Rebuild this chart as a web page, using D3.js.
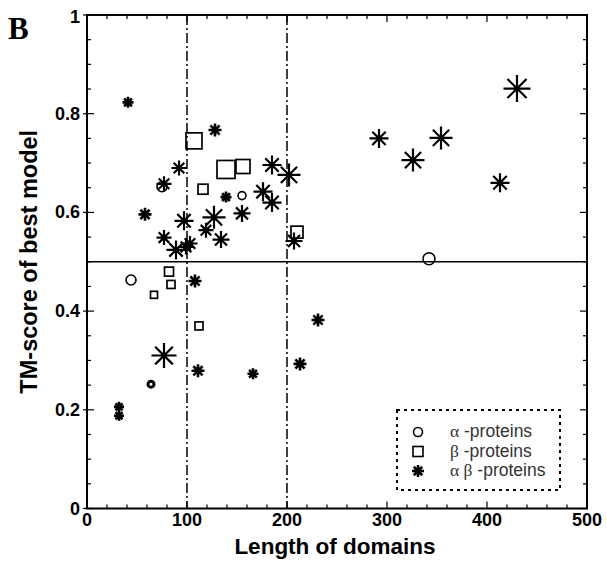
<!DOCTYPE html>
<html>
<head>
<meta charset="utf-8">
<script src="https://cdn.jsdelivr.net/npm/d3@7"></script>
<style>
  body { margin: 0; background: #fff; }
  svg text { font-family: Arial, "Liberation Sans", sans-serif; }
</style>
</head>
<body>
<div id="chart"></div>
<script>
// data: [length, TM-score, marker size (px span)]
const alphaProteins = [
  [75, 0.652, 10], [155, 0.634, 8], [44, 0.463, 10], [342, 0.506, 12], [64, 0.252, 6]
];
const betaProteins = [
  [107, 0.745, 16], [139, 0.687, 18], [156, 0.693, 14], [116, 0.647, 10],
  [210, 0.56, 12], [82, 0.48, 9], [84, 0.454, 8], [67, 0.433, 7], [112, 0.37, 8]
];
const alphaBetaProteins = [
  [41, 0.823, 10], [128, 0.767, 12], [92, 0.69, 14], [77, 0.658, 14], [139, 0.631, 10],
  [176, 0.642, 18], [185, 0.62, 18], [185, 0.696, 18], [202, 0.676, 22], [58, 0.596, 12],
  [97, 0.583, 18], [127, 0.59, 22], [155, 0.598, 16], [119, 0.564, 14], [134, 0.545, 16],
  [77, 0.549, 14], [89, 0.524, 18], [103, 0.537, 14], [99, 0.53, 14], [207, 0.542, 16],
  [108, 0.461, 12], [231, 0.382, 12], [77, 0.31, 24], [111, 0.279, 12], [166, 0.273, 10],
  [213, 0.293, 12], [32, 0.206, 9], [32, 0.188, 9], [292, 0.75, 18], [326, 0.706, 22],
  [354, 0.751, 22], [430, 0.851, 26], [413, 0.66, 18]
];
const xTicks = [0, 100, 200, 300, 400, 500];
const yTicks = [0, 0.2, 0.4, 0.6, 0.8, 1];
const cutLengths = [100, 200];
const cutScore = 0.5;
const legendItems = [
  {greek: 'α', label: ' -proteins', type: 'circle'},
  {greek: 'β', label: ' -proteins', type: 'square'},
  {greek: 'α β', label: ' -proteins', type: 'star'}
];

const width = 607, height = 562;
const margin = {t: 15, r: 20, b: 53.5, l: 87};
const w = width - margin.l - margin.r;
const h = height - margin.t - margin.b;

const svg = d3.select('#chart').append('svg')
  .attr('width', width)
  .attr('height', height);

const plot = svg.append('g')
  .attr('transform', `translate(${margin.l},${margin.t})`);

// scales
const scaleX = d3.scaleLinear().domain([0, 500]).range([0, w]);
const scaleY = d3.scaleLinear().domain([0, 1]).range([h, 0]);

// asterisk with 8 rays
function star(r) {
  const d = r * Math.SQRT1_2;
  return `M${-r},0L${r},0M0,${-r}L0,${r}M${-d},${-d}L${d},${d}M${-d},${d}L${d},${-d}`;
}

// ticks: minor every 20 / 0.05, inward on all sides
const xMinor = d3.range(0, 501, 20);
const yMinor = d3.range(0, 1.0001, 0.05);
const tickG = plot.append('g').attr('stroke', '#000').attr('stroke-width', 1.2);
xMinor.forEach(v => {
  const len = xTicks.includes(v) ? 7 : 4;
  tickG.append('line').attr('x1', scaleX(v)).attr('x2', scaleX(v)).attr('y1', h).attr('y2', h - len);
  tickG.append('line').attr('x1', scaleX(v)).attr('x2', scaleX(v)).attr('y1', 0).attr('y2', len);
});
yMinor.forEach(v => {
  const major = yTicks.some(t => Math.abs(t - v) < 1e-6);
  const len = major ? 7 : 4;
  tickG.append('line').attr('y1', scaleY(v)).attr('y2', scaleY(v)).attr('x1', major ? -4 : 0).attr('x2', len);
  tickG.append('line').attr('y1', scaleY(v)).attr('y2', scaleY(v)).attr('x1', w).attr('x2', w - len);
});

// frame
plot.append('rect')
  .attr('width', w).attr('height', h)
  .attr('fill', 'none').attr('stroke', '#000').attr('stroke-width', 2);

// reference lines
plot.selectAll('.cut-x')
  .data(cutLengths)
  .enter().append('line')
  .attr('x1', d => scaleX(d)).attr('x2', d => scaleX(d))
  .attr('y1', 0).attr('y2', h)
  .attr('stroke', '#000').attr('stroke-width', 1.5)
  .attr('stroke-dasharray', '10,3,2,3');
plot.append('line')
  .attr('x1', 0).attr('x2', w)
  .attr('y1', scaleY(cutScore)).attr('y2', scaleY(cutScore))
  .attr('stroke', '#000').attr('stroke-width', 1.6);

// tick labels
svg.append('g').selectAll('text')
  .data(xTicks)
  .enter().append('text')
  .attr('x', d => margin.l + scaleX(d))
  .attr('y', 526)
  .attr('text-anchor', 'middle')
  .attr('font-size', 18).attr('font-weight', 'bold')
  .text(d => d);
svg.append('g').selectAll('text')
  .data(yTicks)
  .enter().append('text')
  .attr('x', margin.l - 7)
  .attr('y', d => margin.t + scaleY(d) + (d === 1 ? 8 : 6))
  .attr('text-anchor', 'end')
  .attr('font-size', 18).attr('font-weight', 'bold')
  .text(d => d);

// axis titles
svg.append('text')
  .attr('x', margin.l + w / 2 - 2).attr('y', 554)
  .attr('text-anchor', 'middle')
  .attr('font-size', 22.5).attr('font-weight', 'bold')
  .text('Length of domains');
svg.append('text')
  .attr('transform', `translate(37,${margin.t + h / 2}) rotate(-90)`)
  .attr('text-anchor', 'middle')
  .attr('font-size', 23.5).attr('font-weight', 'bold')
  .text('TM-score of best model');
svg.append('text')
  .attr('x', 8).attr('y', 39)
  .style('font-family', '"Liberation Serif", "Times New Roman", serif')
  .attr('font-size', 31).attr('font-weight', 'bold')
  .text('B');

// markers
const marks = plot.append('g').attr('stroke', '#000').attr('fill', 'none');
marks.selectAll('.circ')
  .data(alphaProteins)
  .enter().append('circle')
  .attr('cx', d => scaleX(d[0])).attr('cy', d => scaleY(d[1]))
  .attr('r', d => d[2] / 2)
  .attr('stroke-width', d => d[2] < 7 ? 3 : 1.6);
marks.selectAll('.sq')
  .data(betaProteins)
  .enter().append('rect')
  .attr('x', d => scaleX(d[0]) - d[2] / 2).attr('y', d => scaleY(d[1]) - d[2] / 2)
  .attr('width', d => d[2]).attr('height', d => d[2])
  .attr('stroke-width', 1.7);
const stars = marks.selectAll('.star')
  .data(alphaBetaProteins)
  .enter().append('g')
  .attr('transform', d => `translate(${scaleX(d[0])},${scaleY(d[1])})`);
stars.append('path')
  .attr('d', d => star(d[2] / 2 + 0.5))
  .attr('stroke-width', d => d[2] <= 12 ? 2.6 : 2.2);
stars.append('circle')
  .attr('r', 2.2).attr('fill', '#000').attr('stroke', 'none');

// legend
const lg = svg.append('g').attr('transform', 'translate(397,410)');
lg.append('rect')
  .attr('width', 163).attr('height', 80)
  .attr('fill', '#fff').attr('stroke', '#000')
  .attr('stroke-width', 2).attr('stroke-dasharray', '3,4');
const rows = lg.selectAll('.row')
  .data(legendItems)
  .enter().append('g')
  .attr('transform', (d, i) => `translate(21,${22 + i * 19.5})`);
rows.filter(d => d.type === 'circle').append('circle')
  .attr('r', 4.5).attr('fill', 'none').attr('stroke', '#000').attr('stroke-width', 1.6);
rows.filter(d => d.type === 'square').append('rect')
  .attr('x', -5).attr('y', -5).attr('width', 10).attr('height', 10)
  .attr('fill', 'none').attr('stroke', '#000').attr('stroke-width', 1.6);
rows.filter(d => d.type === 'star').append('path')
  .attr('d', star(6)).attr('stroke', '#000').attr('stroke-width', 2.6);
const lt = rows.append('text')
  .attr('x', 32).attr('y', 5)
  .attr('font-size', 17.5);
lt.append('tspan')
  .style('font-family', '"Liberation Serif", "Times New Roman", serif')
  .attr('fill', '#333')
  .text(d => d.greek);
lt.append('tspan')
  .attr('fill', '#333')
  .text(d => d.label);
</script>
</body>
</html>
